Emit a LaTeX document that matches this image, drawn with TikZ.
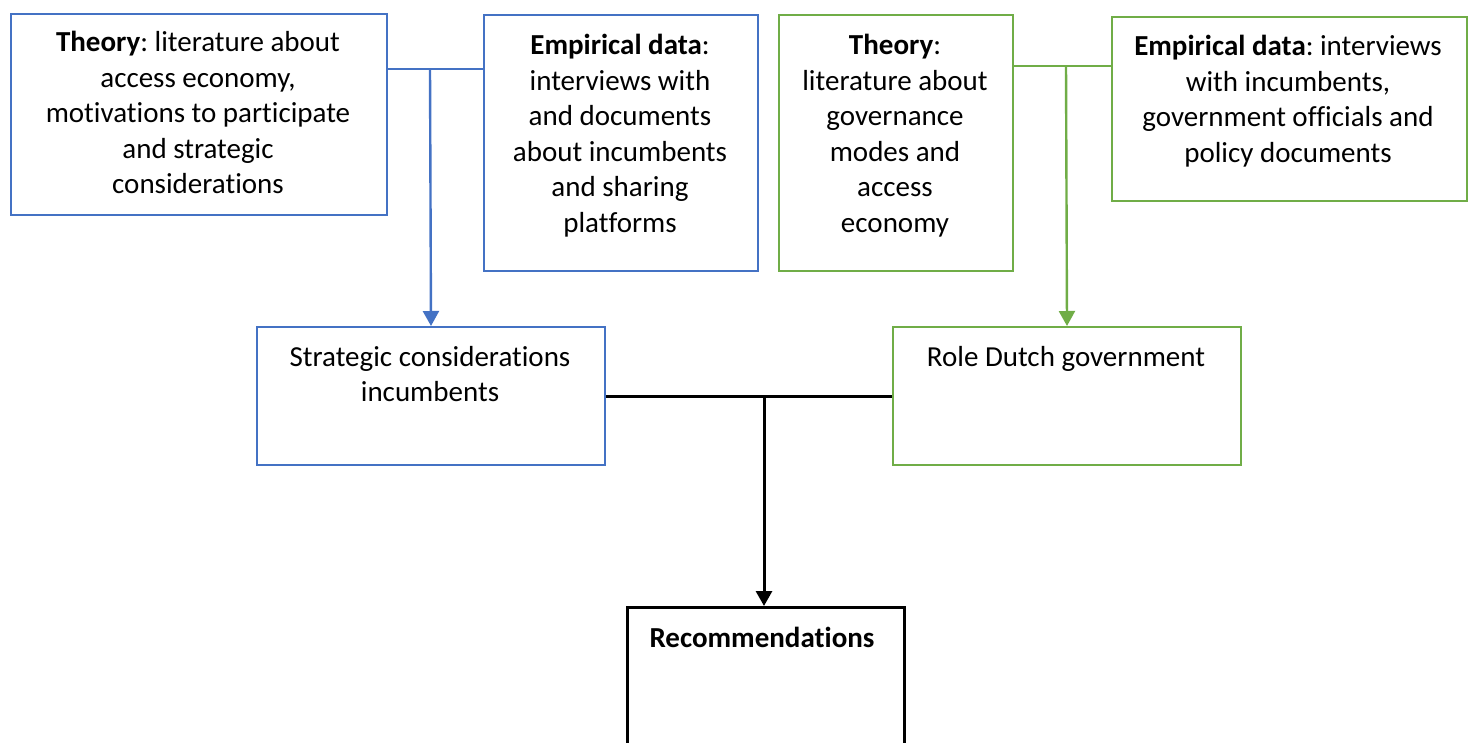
\documentclass[tikz,border=0pt]{standalone}
\usepackage{fontspec}
\setmainfont{Carlito}[Ligatures=NoCommon]
\usetikzlibrary{arrows.meta}
\definecolor{cblue}{HTML}{4472C4}
\definecolor{cgreen}{HTML}{70AD47}
\frenchspacing
\begin{document}
\begin{tikzpicture}[x=0.5pt,y=-0.5pt,
  box/.style={draw, line width=1pt, inner sep=0pt, anchor=north west},
  txt/.style={align=center, inner sep=0pt, anchor=north,
    font=\fontsize{14.5}{17.75}\selectfont},
  link/.style={line width=1.2pt},
  tip/.style={-{Triangle[width=8pt,length=7.5pt]}}]
\path[use as bounding box] (0,0) rectangle (1471,743);
\clip (0,0) rectangle (1471,743);

% boxes
\node[box, cblue, minimum width=188pt, minimum height=100.5pt] (thA) at (10,13) {};
\node[box, cblue, minimum width=137pt, minimum height=128pt] (emA) at (483,14) {};
\node[box, cgreen, minimum width=117pt, minimum height=128pt] (thB) at (778,14) {};
\node[box, cgreen, minimum width=177.5pt, minimum height=92pt] (emB) at (1111,16) {};
\node[box, cblue, minimum width=174pt, minimum height=69pt] (strat) at (256,326) {};
\node[box, cgreen, minimum width=174pt, minimum height=69pt] (role) at (892,326) {};
\node[box, black, line width=1.6pt, minimum width=138.5pt, minimum height=90pt] (rec) at (626,606) {};

% texts
\node[txt] (tthA) at (198,26.5) {\strut\textbf{Theory}: literature about\\access economy,\\motivations to participate\\and strategic\\considerations};
\node[txt] (temA) at (620,29.5) {\strut\textbf{Empirical data}:\\interviews with\\and documents\\about incumbents\\and sharing\\platforms};
\node[txt] (tthB) at (895,29.5) {\strut\textbf{Theory}:\\literature about\\governance\\modes and\\access\\economy};
\node[txt] (temB) at (1288,30.5) {\strut\textbf{Empirical data}: interviews\\with incumbents,\\government officials and\\policy documents};
\node[txt] (tstrat) at (430,341) {\strut Strategic considerations\\incumbents};
\node[txt] (trole) at (1066,341) {\strut Role Dutch government};
\node[txt] (trec) at (762,622) {\strut\textbf{Recommendations}};

% connectors
\coordinate (jA) at (430,69);
\coordinate (jB) at (1066,66);
\coordinate (jC) at (764,395);
\draw[link, cblue] (thA.east |- jA) -- (emA.west |- jA);
\draw[link, cblue, tip] (jA) -- (strat.north);
\draw[link, cgreen] (thB.east |- jB) -- (emB.west |- jB);
\draw[link, cgreen, tip] (jB) -- (role.north);
\draw[link, black, line width=1.5pt] (strat.east) -- (role.west);
\draw[link, black, line width=1.5pt, tip] (jC) -- (rec.north -| jC);
\end{tikzpicture}
\end{document}
